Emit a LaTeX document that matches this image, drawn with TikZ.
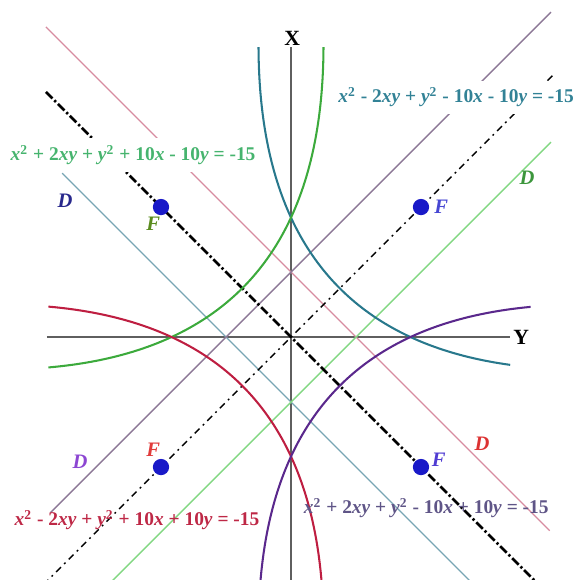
\documentclass[tikz,border=0pt]{standalone}
\usepackage{fontspec}
\setmainfont{Liberation Serif}
\usetikzlibrary{positioning}

\definecolor{axisgray}{RGB}{95,95,95}
\definecolor{tealc}{RGB}{40,120,140}
\definecolor{greenc}{RGB}{60,170,60}
\definecolor{redc}{RGB}{190,30,65}
\definecolor{purplec}{RGB}{90,40,140}
\definecolor{pinkline}{RGB}{215,140,160}
\definecolor{blueline}{RGB}{120,165,180}
\definecolor{purpleline}{RGB}{140,120,150}
\definecolor{greenline}{RGB}{130,215,130}
\definecolor{focusblue}{RGB}{25,25,200}
\definecolor{tealtxt}{RGB}{50,130,150}
\definecolor{greentxt}{RGB}{70,180,110}
\definecolor{redtxt}{RGB}{190,40,70}
\definecolor{purpletxt}{RGB}{95,85,135}

% points of the parabola with focus (2,2), t = b - a
\newcommand{\para}[1]{(((#1)*(#1)+15)/10-(#1))/2}
\newcommand{\parb}[1]{(((#1)*(#1)+15)/10+(#1))/2}
\newcommand{\eqtext}[3]{\textit{x}\textsuperscript{2} #1 2\textit{xy} + \textit{y}\textsuperscript{2} #2 10\textit{x} #3 10\textit{y} = -15}

\begin{document}
\begin{tikzpicture}[
  axisline/.style={draw=axisgray, line width=0.65pt},
  dirline/.style={line width=0.6pt},
  symthick/.style={draw=black, line width=1.2pt, dash pattern=on 4pt off 1.2pt on 1pt off 1.2pt},
  symthin/.style={draw=black, line width=0.6pt, dash pattern=on 3pt off 2pt on 0.8pt off 2pt},
  parab/.style={line width=0.9pt, samples=90, variable=\t},
  eqlabel/.style={font=\fontsize{8.5}{10}\selectfont\bfseries, inner sep=2pt},
  dlabel/.style={font=\fontsize{9}{10}\selectfont\bfseries\itshape},
  flabel/.style={font=\fontsize{9}{10}\selectfont\bfseries\itshape, inner sep=1pt},
  focus/.style={circle, fill=focusblue, minimum size=2.5mm, inner sep=0pt},
  axlabel/.style={font=\fontsize{9.5}{10}\selectfont\bfseries}
]
\useasboundingbox (-4.477,-3.738) rectangle (4.446,5.185);
\clip (-4.477,-3.738) rectangle (4.446,5.185);

% axes
\coordinate (o) at (0,0);
\coordinate (xtop) at (0,4.46);
\coordinate (xbot) at (0,-3.8);
\coordinate (yleft) at (-3.754,0);
\coordinate (yright) at (3.37,0);
\draw[axisline] (xbot) -- (xtop);
\draw[axisline] (yleft) -- (yright);
\node[axlabel] (xlab) at (0.02,4.6) {X};
\node[axlabel] (ylab) at (3.54,0) {Y};

% directrices
\draw[dirline, pinkline] (-3.77,4.77) -- (3.98,-2.98);
\draw[dirline, blueline] (-3.52,2.52) -- (2.9,-3.9);
\draw[dirline, purpleline] (-3.7,-2.7) -- (4,5);
\draw[dirline, greenline] (4,3) -- (-2.9,-3.9);

% axes of symmetry
\draw[symthick] (-3.77,3.77) -- (3.9,-3.9);
\draw[symthin] (4.02,4.02) -- (-3.9,-3.9);

% parabolas
\draw[parab, tealc, domain=-3.8:4.96] plot ({\para{\t}}, {\parb{\t}});
\draw[parab, greenc, domain=-4.2:4.96] plot ({-\para{\t}}, {\parb{\t}});
\draw[parab, redc, domain=-4.2:5.6] plot ({-\para{\t}}, {-\parb{\t}});
\draw[parab, purplec, domain=-4.15:5.6] plot ({\para{\t}}, {-\parb{\t}});

% foci
\node[focus] (f1) at (2,2) {};
\node[focus] (f2) at (-2,2) {};
\node[focus] (f3) at (-2,-2) {};
\node[focus] (f4) at (2,-2) {};
\node[flabel, text=focusblue!80!white, right=0.3mm of f1] (f1lab) {F};
\node[flabel, text={rgb,255:red,90;green,140;blue,30}, below left=0.2mm and -1.2mm of f2] (f2lab) {F};
\node[flabel, text={rgb,255:red,225;green,60;blue,60}, above left=0.2mm and -1.2mm of f3] (f3lab) {F};
\node[flabel, text={rgb,255:red,80;green,60;blue,210}, above right=-1.2mm and 0.3mm of f4] (f4lab) {F};

% directrix labels
\node[dlabel, text={rgb,255:red,40;green,40;blue,140}] (dblue) at (-3.477,2.092) {D};
\node[dlabel, text={rgb,255:red,60;green,150;blue,60}] (dgreen) at (3.631,2.446) {D};
\node[dlabel, text={rgb,255:red,140;green,70;blue,210}] (dpurple) at (-3.246,-1.923) {D};
\node[dlabel, text={rgb,255:red,220;green,50;blue,50}] (dred) at (2.938,-1.646) {D};

% equations
\node[eqlabel, text=tealtxt, fill=white, inner sep=3pt] (eqteal) at (2.54,3.69) {\eqtext{-}{-}{-}};
\node[eqlabel, text=greentxt, fill=white, inner sep=3pt] (eqgreen) at (-2.43,2.8) {\eqtext{+}{+}{-}};
\node[eqlabel, text=redtxt] (eqred) at (-2.37,-2.815) {\eqtext{-}{+}{+}};
\node[eqlabel, text=purpletxt] (eqpurple) at (2.08,-2.63) {\eqtext{+}{-}{+}};

\end{tikzpicture}
\end{document}
